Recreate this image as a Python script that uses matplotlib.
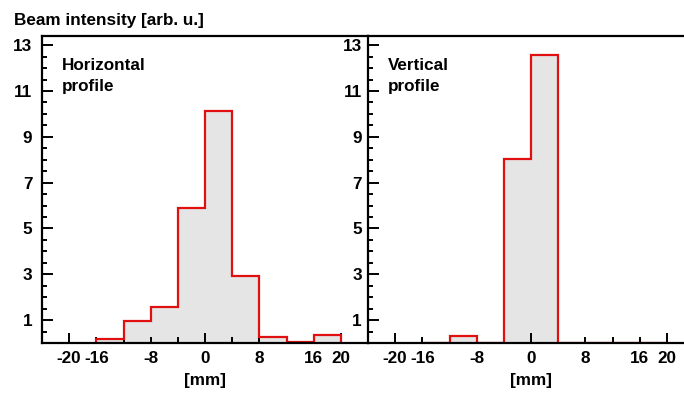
import matplotlib
matplotlib.use("Agg")
import matplotlib.pyplot as plt
import numpy as np

# ---- data ----
bin_edges = [-16, -12, -8, -4, 0, 4, 8, 12, 16, 20]
horizontal_values = [0.16, 0.97, 1.56, 5.88, 10.14, 2.94, 0.25, 0.06, 0.33]
vertical_values = [0.0, 0.30, 0.0, 8.03, 12.55, 0.0, 0.0, 0.0, 0.0]
x_ticks = [-20, -16, -12, -8, -4, 0, 4, 8, 12, 16, 20]
x_tick_labels = ["-20", "-16", "", "-8", "", "0", "", "8", "", "16", "20"]
y_ticks = [1, 3, 5, 7, 9, 11, 13]
y_label = "Beam intensity [arb. u.]"
x_label = "[mm]"
panel_titles = ["Horizontal\nprofile", "Vertical\nprofile"]

plt.rcParams['font.family'] = ['Liberation Sans', 'DejaVu Sans']
plt.rcParams['font.weight'] = 'bold'
FS = 12.3

W, H = 684, 394
fig = plt.figure(figsize=(W / 100, H / 100), dpi=100)

def fr(x0, y0, x1, y1):
    return [x0 / W, 1 - y1 / H, (x1 - x0) / W, (y1 - y0) / H]

ax1 = fig.add_axes(fr(42, 36, 368, 343))
ax2 = fig.add_axes(fr(368, 36, 694, 343))

RED = '#e01010'
GRAY = '#e5e5e5'

for ax, vals, title, ypad in [(ax1, horizontal_values, panel_titles[0], 7.0),
                              (ax2, vertical_values, panel_titles[1], 4.5)]:
    ax.stairs(vals, bin_edges, baseline=0, fill=True, facecolor=GRAY,
              edgecolor='none', zorder=1)
    ax.stairs(vals, bin_edges, baseline=0, fill=False, edgecolor=RED,
              linewidth=1.6, zorder=2)
    ax.set_xlim(-24, 24)
    ax.set_ylim(0, 13.4)
    ax.set_xticks(x_ticks)
    ax.set_xticklabels(x_tick_labels, fontsize=FS, fontweight='bold')
    ax.set_yticks(y_ticks)
    ax.set_yticklabels([str(v) for v in y_ticks], fontsize=FS, fontweight='bold')
    ax.set_yticks(np.arange(0.5, 13.4, 0.5), minor=True)
    ax.tick_params(axis='both', which='both', direction='in', width=1.4,
                   top=False, right=False)
    ax.tick_params(axis='y', which='major', length=8, pad=ypad)
    ax.tick_params(axis='y', which='minor', length=3.5)
    ax.tick_params(axis='x', which='major', length=4, pad=5.5)
    for t, v in zip(ax.xaxis.get_major_ticks(), x_ticks):
        if v in (-20, 0, 20):
            t.tick1line.set_markersize(7)
    for s in ['left', 'bottom', 'top']:
        ax.spines[s].set_linewidth(1.6)
    ax.spines['right'].set_visible(False)
    ax.set_xlabel(x_label, fontsize=FS, fontweight='bold', labelpad=5)
    ax.text(0.062, 0.928, title, transform=ax.transAxes, fontsize=FS,
            fontweight='bold', va='top', ha='left', linespacing=1.45)
    ax.patch.set_alpha(0)

ax2.set_zorder(2)
fig.text(14 / W, 1 - 25 / H, y_label, fontsize=FS, fontweight='bold',
         ha='left', va='baseline')

fig.savefig("out.png", dpi=100)
